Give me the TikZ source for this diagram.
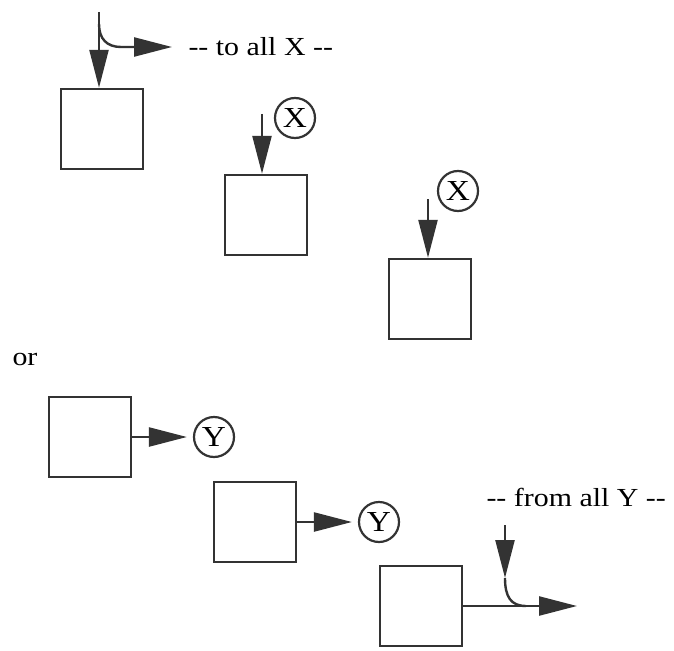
\documentclass[tikz,border=0pt]{standalone}
\usepackage{fontspec}
\setmainfont{Liberation Serif}[FakeStretch=1.15]
\usepackage{xcolor}
\usetikzlibrary{arrows.meta, positioning}
\definecolor{ink}{HTML}{333333}
\tikzset{
  blk/.style={draw=ink, line width=2.4pt, minimum width=82pt, minimum height=80pt, inner sep=0pt},
  tag/.style={draw=ink, line width=2.2pt, circle, minimum size=40pt, inner sep=0pt,
    font=\fontsize{29}{30}\selectfont},
  arr/.style={draw=ink, line width=2.4pt, -{Triangle[length=38pt,width=19pt]}},
  wire/.style={draw=ink, line width=2.4pt}
}
\begin{document}
\begin{tikzpicture}[x=1pt, y=-1pt, font=\fontsize{26}{28}\selectfont]
  \useasboundingbox (0,0) rectangle (674,650);

  % Broadcast to all X
  \node[blk] (b1) at (102,129) {};
  \node[blk] (b2) at (266,215) {};
  \node[blk] (b3) at (430,299) {};
  \node[tag] (x2) at (295,118) {X};
  \node[tag] (x3) at (458,191) {X};
  \coordinate (t1) at (99,12);
  \coordinate (t2) at (262,114);
  \coordinate (t3) at (428,199);
  \draw[arr] (t1) -- (t1 |- b1.north);
  \draw[arr] (t2) -- (t2 |- b2.north);
  \draw[arr] (t3) -- (t3 |- b3.north);
  \coordinate (s1) at (99,24);
  \coordinate (e1) at (172,47);
  \draw[arr] (s1) .. controls (99,39) and (107,47) .. (121,47) -- (e1);
  \node[right] (toall) at (185,47) {-{}- to all X -{}-};

  \node[right] (or) at (9,359) {or};

  % Gather from all Y
  \node[blk] (b4) at (90,437) {};
  \node[blk] (b5) at (255,522) {};
  \node[blk] (b6) at (421,606) {};
  \node[tag] (y1) at (214,437) {Y};
  \node[tag] (y2) at (379,522) {Y};
  \draw[arr, shorten >=6pt] (b4.east) -- (y1);
  \draw[arr, shorten >=6pt] (b5.east) -- (y2);
  \coordinate (e6) at (577,606);
  \draw[arr] (b6.east) -- (e6);
  \coordinate (t6) at (505,525);
  \coordinate (m6) at (505,578);
  \draw[arr] (t6) -- (m6);
  \draw[wire] (m6) .. controls (505,597) and (511,606) .. (526,606);
  \node[right] (fromall) at (483,497) {-{}- from all Y -{}-};
\end{tikzpicture}
\end{document}
